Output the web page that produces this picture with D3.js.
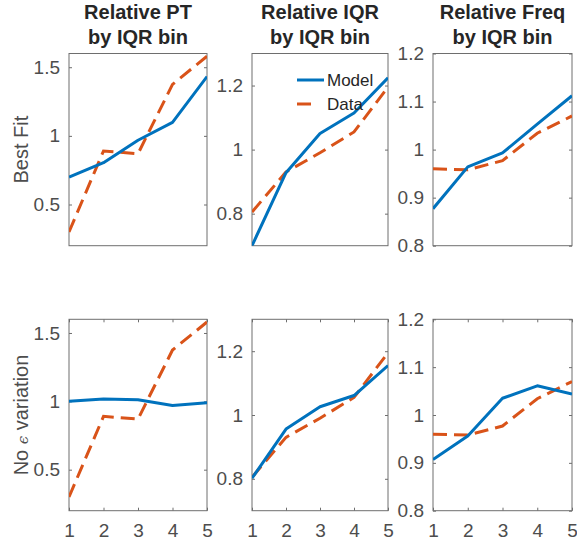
<!DOCTYPE html>
<html>
<head>
<meta charset="utf-8">
<script src="https://cdn.jsdelivr.net/npm/d3@7"></script>
<style>
  body { margin: 0; background: #fff; }
  text { font-family: "Liberation Sans", Arial, sans-serif; }
</style>
</head>
<body>
<svg width="577" height="546"></svg>
<script>
const width = 577;
const height = 546;

// data
const bins = [1, 2, 3, 4, 5];
const titles = [["Relative PT", "by IQR bin"], ["Relative IQR", "by IQR bin"], ["Relative Freq", "by IQR bin"]];
const rowLabels = ["Best Fit", "No \u03f5 variation"];
const yDomains = [[0.2, 1.6], [0.7, 1.3], [0.8, 1.2]];
const yTicks = [[0.5, 1, 1.5], [0.8, 1, 1.2], [0.8, 0.9, 1, 1.1, 1.2]];
const seriesNames = ["Model", "Data"];

const ptData = [0.3, 0.89, 0.87, 1.375, 1.58];
const iqrData = [0.805, 0.93, 0.99, 1.055, 1.195];
const freqData = [0.96, 0.958, 0.977, 1.034, 1.07];

const ptModelBest = [0.70, 0.805, 0.968, 1.098, 1.432];
const iqrModelBest = [0.70, 0.928, 1.05, 1.114, 1.224];
const freqModelBest = [0.877, 0.964, 0.993, 1.053, 1.112];

const ptModelNoEps = [1.0, 1.017, 1.012, 0.97, 0.99];
const iqrModelNoEps = [0.802, 0.956, 1.026, 1.061, 1.155];
const freqModelNoEps = [0.907, 0.956, 1.035, 1.061, 1.044];

const modelRows = [
  [ptModelBest, iqrModelBest, freqModelBest],
  [ptModelNoEps, iqrModelNoEps, freqModelNoEps]
];
const dataCols = [ptData, iqrData, freqData];

// layout
const colX = [[69, 207], [252, 388], [433, 572]];
const rowY = [[53.5, 245.7], [319.3, 510.7]];
const blue = '#0072bd';
const red = '#d95319';
const axisColor = '#6e6e6e';
const labelColor = '#4d4d4d';
const tickLen = 3;
const tickFont = 19;

const svg = d3.select('svg')
    .attr('width', width)
    .attr('height', height);

const defs = svg.append('defs');

rowY.forEach((ry, r) => {
  colX.forEach((cx, c) => {
    const x = d3.scaleLinear().domain([1, 5]).range(cx);
    const y = d3.scaleLinear().domain(yDomains[c]).range([ry[1], ry[0]]);
    const g = svg.append('g');
    const clipId = `clip-${r}-${c}`;

    defs.append('clipPath').attr('id', clipId)
      .append('rect')
        .attr('x', cx[0]).attr('y', ry[0])
        .attr('width', cx[1] - cx[0]).attr('height', ry[1] - ry[0]);

    // box axes, ticks pointing inward
    const yLeft = d3.axisLeft(y).tickValues(yTicks[c]).tickSizeInner(-tickLen).tickSizeOuter(0)
        .tickPadding(6 + tickLen).tickFormat(d3.format('~g'));
    const yRight = d3.axisRight(y).tickValues(yTicks[c]).tickSizeInner(-tickLen).tickSizeOuter(0)
        .tickFormat('');

    g.append('g')
        .attr('transform', `translate(${cx[0]},0)`)
        .call(yLeft)
        .call(a => a.select('.domain').remove())
        .call(a => a.selectAll('text').attr('font-size', tickFont).attr('fill', labelColor)
            .attr('font-family', '"Liberation Sans", Arial, sans-serif'));
    g.append('g')
        .attr('transform', `translate(${cx[1]},0)`)
        .call(yRight)
        .call(a => a.select('.domain').remove());

    if (r === 1) {
      const xBottom = d3.axisBottom(x).tickValues(bins).tickSizeInner(-tickLen).tickSizeOuter(0)
          .tickPadding(10 + tickLen).tickFormat(d3.format('d'));
      const xTop = d3.axisTop(x).tickValues(bins).tickSizeInner(-tickLen).tickSizeOuter(0)
          .tickFormat('');
      g.append('g')
          .attr('transform', `translate(0,${ry[1]})`)
          .call(xBottom)
          .call(a => a.select('.domain').remove())
          .call(a => a.selectAll('text').attr('font-size', tickFont).attr('fill', labelColor)
              .attr('font-family', '"Liberation Sans", Arial, sans-serif'));
      g.append('g')
          .attr('transform', `translate(0,${ry[0]})`)
          .call(xTop)
          .call(a => a.select('.domain').remove());
    }

    g.selectAll('.tick line').attr('stroke', axisColor);

    g.append('rect')
        .attr('x', cx[0]).attr('y', ry[0])
        .attr('width', cx[1] - cx[0]).attr('height', ry[1] - ry[0])
        .attr('fill', 'none')
        .attr('stroke', axisColor)
        .attr('stroke-width', 1);

    const line = d3.line()
        .x((d, i) => x(bins[i]))
        .y(d => y(d));

    const plot = g.append('g').attr('clip-path', `url(#${clipId})`);

    plot.append('path')
        .datum(dataCols[c])
        .attr('d', line)
        .attr('fill', 'none')
        .attr('stroke', red)
        .attr('stroke-width', 3)
        .attr('stroke-dasharray', '14,7');

    plot.append('path')
        .datum(modelRows[r][c])
        .attr('d', line)
        .attr('fill', 'none')
        .attr('stroke', blue)
        .attr('stroke-width', 3)
        .attr('stroke-linejoin', 'round');

    if (r === 0) {
      const t = svg.append('text')
          .attr('x', (cx[0] + cx[1]) / 2)
          .attr('text-anchor', 'middle')
          .attr('font-size', 20)
          .attr('font-weight', 'bold')
          .attr('fill', '#262626');
      titles[c].forEach((s, i) => {
        t.append('tspan')
            .attr('x', (cx[0] + cx[1]) / 2)
            .attr('y', 19 + i * 24.5)
            .text(s);
      });
    }
  });

  // row label
  const lab = svg.append('text')
      .attr('transform', `translate(28,${(ry[0] + ry[1]) / 2}) rotate(-90)`)
      .attr('text-anchor', 'middle')
      .attr('font-size', 20)
      .attr('fill', labelColor);
  if (r === 0) {
    lab.text(rowLabels[0]);
  } else {
    const parts = rowLabels[1].split('\u03f5');
    lab.append('tspan').text(parts[0]);
    lab.append('tspan').attr('font-size', 15).attr('font-style', 'italic')
        .attr('font-family', '"DejaVu Serif", serif').text('\u03f5');
    lab.append('tspan').text(parts[1]);
  }
});

// legend in the top middle panel
const legend = svg.append('g');
seriesNames.forEach((name, i) => {
  const ly = 80 + i * 24;
  legend.append('line')
      .attr('x1', 297).attr('x2', 324)
      .attr('y1', ly).attr('y2', ly)
      .attr('stroke', i === 0 ? blue : red)
      .attr('stroke-width', 3)
      .attr('stroke-dasharray', i === 0 ? null : '14,13');
  legend.append('text')
      .attr('x', 327).attr('y', ly)
      .attr('dy', '0.35em')
      .attr('font-size', 17)
      .attr('fill', '#262626')
      .text(name);
});
</script>
</body>
</html>
